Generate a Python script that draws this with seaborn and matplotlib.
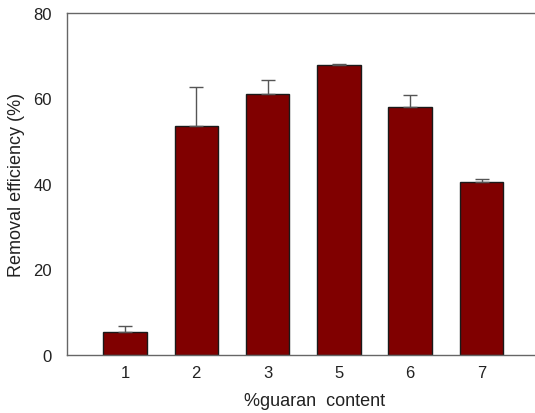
import matplotlib
matplotlib.use("Agg")
import matplotlib.pyplot as plt
import seaborn as sns
import pandas as pd
import numpy as np

# Guar gum content (%) and measured removal efficiency (%)
guaran_content = ["1", "2", "3", "5", "6", "7"]
removal_efficiency = [5.4, 53.6, 61.0, 67.8, 58.0, 40.5]
error_upper = [1.3, 9.2, 3.4, 0.3, 2.8, 0.7]

df = pd.DataFrame({"content": guaran_content, "efficiency": removal_efficiency})

sns.set_theme(style="white")
plt.rcParams["font.family"] = ["Liberation Sans", "DejaVu Sans"]

fig = plt.figure(figsize=(5.35, 4.14), dpi=100)
ax = fig.add_axes([67 / 535, 1 - 356 / 414, 1 - 67 / 535, (356 - 14) / 414])

sns.barplot(data=df, x="content", y="efficiency", order=guaran_content,
            color="#800000", saturation=1, width=0.61,
            edgecolor="#1a1a1a", linewidth=1.0, errorbar=None, ax=ax)

pos = np.arange(len(guaran_content))
ax.errorbar(pos, removal_efficiency,
            yerr=[np.zeros(len(error_upper)), error_upper],
            fmt="none", ecolor="#555555", elinewidth=1.0,
            capsize=4.7, capthick=1.0, zorder=1)

ax.set_ylim(0, 80)
ax.set_xlim(-0.813, 5.75)
ax.set_yticks([0, 20, 40, 60, 80])

for side in ["top", "left", "bottom"]:
    ax.spines[side].set_color("#666666")
    ax.spines[side].set_linewidth(1.0)
ax.spines["right"].set_visible(False)

ax.tick_params(axis="y", length=0, pad=11, labelsize=12, colors="#222222")
ax.tick_params(axis="x", length=0, pad=7, labelsize=12, colors="#222222")
ax.set_xlabel("%guaran  content", fontsize=13, color="#222222")
ax.set_ylabel("Removal efficiency (%)", fontsize=13, color="#222222", labelpad=6)
ax.xaxis.set_label_coords(0.53, -0.108)

fig.savefig("out.png", dpi=100)
